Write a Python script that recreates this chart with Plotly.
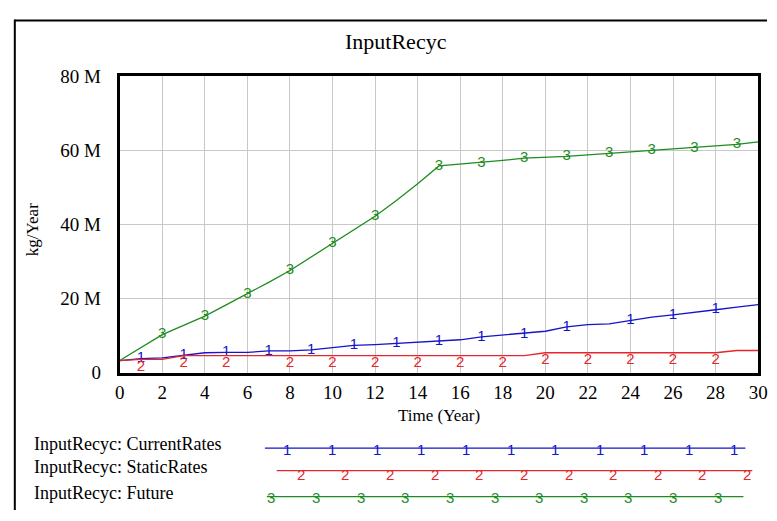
import plotly.graph_objects as go

W, H = 777, 521

# ---------------- data ----------------
years = list(range(0, 31))
current_rates = [3.3, 3.8, 4.0, 4.8, 5.4, 5.5, 5.5, 5.9, 5.9, 6.2, 6.9, 7.4, 7.6, 7.9, 8.3, 8.5,
                 8.9, 9.7, 10.2, 10.5, 11.2, 12.4, 13.0, 13.2, 14.2, 15.0, 15.6, 16.2, 17.0, 17.7, 18.4]
static_rates = [3.3, 3.6, 3.6, 4.6, 4.6, 4.6, 4.6, 4.6, 4.6, 4.6, 4.6, 4.6, 4.6, 4.6, 4.6, 4.6,
                4.6, 4.6, 4.6, 4.6, 5.4, 5.4, 5.4, 5.4, 5.4, 5.4, 5.4, 5.4, 5.4, 6.0, 6.0]
future = [3.3, 6.8, 10.3, 12.8, 15.3, 18.3, 21.3, 24.4, 27.6, 31.2, 35.0, 38.6, 42.2, 46.5, 51.0, 55.8,
          56.3, 56.6, 57.3, 57.9, 58.1, 58.4, 58.8, 59.2, 59.6, 60.1, 60.4, 60.7, 61.2, 61.6, 62.3]

current_marks = [1, 3, 5, 7, 9, 11, 13, 15, 17, 19, 21, 24, 26, 28]
static_marks = [1, 3, 5, 8, 10, 12, 14, 16, 18, 20, 22, 24, 26, 28]
future_marks = [2, 4, 6, 8, 10, 12, 15, 17, 19, 21, 23, 25, 27, 29]

series_names = ["InputRecyc: CurrentRates", "InputRecyc: StaticRates", "InputRecyc: Future"]
series_ids = ["1", "2", "3"]
x_ticks = list(range(0, 31, 2))
y_tickvals = [0, 20e6, 40e6, 60e6, 80e6]
y_ticktext = ["0", "20 M", "40 M", "60 M", "80 M"]

# ---------------- style ----------------
colors = ["#1414C8", "#E5262B", "#1E8C1E"]
text_pos = ["middle center", "bottom center", "middle center"]
SERIF = "Liberation Serif, Times New Roman, serif"
SANS = "Liberation Sans, Arial, sans-serif"

PL, PR, PT, PB = 117, 768, 69, 378  # plot area in pixels


def px(x):
    return x / W


def py(y):
    return 1 - y / H


fig = go.Figure()

all_series = [current_rates, static_rates, future]
all_marks = [current_marks, static_marks, future_marks]
for vals, marks, col, name, sid, tp in zip(all_series, all_marks, colors, series_names, series_ids, text_pos):
    yv = [v * 1e6 for v in vals]
    fig.add_trace(go.Scatter(x=years, y=yv, mode="lines", name=name,
                             line=dict(color=col, width=1.3), showlegend=False))
    fig.add_trace(go.Scatter(x=marks, y=[yv[years.index(t)] for t in marks], mode="text",
                             text=[sid] * len(marks), textposition=tp,
                             textfont=dict(family=SANS, size=15, color=col),
                             showlegend=False, hoverinfo="skip"))

fig.update_layout(
    width=W, height=H,
    margin=dict(l=0, r=0, t=0, b=0),
    paper_bgcolor="white", plot_bgcolor="white",
    xaxis=dict(domain=[px(PL), px(PR)], range=[0, 30], tickvals=x_ticks,
               showgrid=True, gridcolor="#c8c8c8", gridwidth=1, zeroline=False,
               showline=True, mirror=True, linecolor="black", linewidth=3,
               ticks="", ticklabelstandoff=0, ticklabeloverflow="allow",
               tickfont=dict(family=SERIF, size=19, color="black")),
    yaxis=dict(domain=[py(PB), py(PT)], range=[0, 80e6], tickvals=y_tickvals, ticktext=y_ticktext,
               showgrid=True, gridcolor="#c8c8c8", gridwidth=1, zeroline=False,
               showline=True, mirror=True, linecolor="black", linewidth=3,
               ticks="", ticklabelstandoff=12, ticklabeloverflow="allow",
               tickfont=dict(family=SERIF, size=19, color="black")),
)

ann = []
shapes = []


def text_ann(text, x, y, size, family=SERIF, color="black", xanchor="center", angle=0):
    return dict(text=text, x=px(x), y=py(y), xref="paper", yref="paper",
                xanchor=xanchor, yanchor="middle", textangle=angle, showarrow=False,
                font=dict(family=family, size=size, color=color))


# title and axis titles
ann.append(text_ann("InputRecyc", 399, 33, 22))
ann.append(text_ann("Time (Year)", 443, 423, 17))
ann.append(text_ann("kg/Year", 28, 229, 17, angle=-90))

# outer frame (left and top)
shapes.append(dict(type="line", xref="paper", yref="paper", x0=px(10), x1=px(10), y0=py(10), y1=0,
                   line=dict(color="black", width=2)))
shapes.append(dict(type="line", xref="paper", yref="paper", x0=px(10), x1=1, y0=py(11), y1=py(11),
                   line=dict(color="black", width=2)))

# legend block
leg_rows = [456.5, 480, 507]
leg_line = [(265, 755), (277, 762), (267, 753)]
leg_first = [288, 301.7, 271.7]
leg_step = 45.5
leg_count = 11
for i in range(3):
    r = leg_rows[i]
    ann.append(text_ann(series_names[i], 28, r - 4, 18, xanchor="left"))
    shapes.append(dict(type="line", xref="paper", yref="paper", x0=px(leg_line[i][0]), x1=px(leg_line[i][1]),
                       y0=py(r), y1=py(r), line=dict(color=colors[i], width=1.3)))
    for k in range(leg_count):
        ann.append(text_ann(series_ids[i], leg_first[i] + k * leg_step, r + (4 if i == 1 else 1), 15,
                            family=SANS, color=colors[i]))

fig.update_layout(annotations=ann, shapes=shapes)
fig.write_html("out.html")
